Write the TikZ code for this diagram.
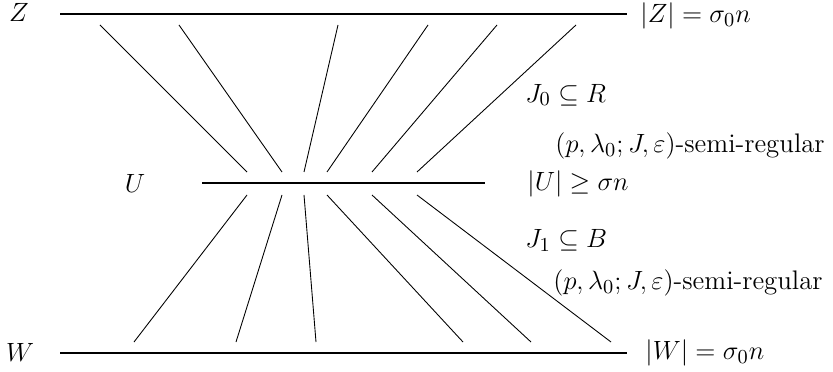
\documentclass[tikz,border=0pt]{standalone}
\usepackage{amssymb}
\begin{document}
\begin{tikzpicture}[x=0.4545pt,y=-0.4545pt,
  every node/.style={font=\fontsize{12.2pt}{15pt}\selectfont},
  setline/.style={line width=0.8pt},
  edgeline/.style={line width=0.4pt},
  lab/.style={inner sep=0pt, anchor=west},
  clab/.style={inner sep=0pt}]
\useasboundingbox (0,0) rectangle (833,372);
% set lines
\coordinate (z1) at (60,14);  \coordinate (z2) at (627,14);
\coordinate (u1) at (202,183); \coordinate (u2) at (485,183);
\coordinate (w1) at (60,353); \coordinate (w2) at (627,353);
\draw[setline] (z1) -- (z2);
\draw[setline] (u1) -- (u2);
\draw[setline] (w1) -- (w2);
% upper fan
\draw[edgeline] (100,25) -- (247,172);
\draw[edgeline] (179,25) -- (282,172);
\draw[edgeline] (338,25) -- (304,172);
\draw[edgeline] (428,25) -- (327,172);
\draw[edgeline] (497,25) -- (372,172);
\draw[edgeline] (576,25) -- (417,172);
% lower fan
\draw[edgeline] (247,195) -- (134,342);
\draw[edgeline] (282,195) -- (236,342);
\draw[edgeline] (304,195) -- (316,342);
\draw[edgeline] (327,195) -- (463,342);
\draw[edgeline] (372,195) -- (531,342);
\draw[edgeline] (417,195) -- (611,342);
% labels
\node[clab] (Z) at (19,12) {$Z$};
\node[clab] (U) at (135,183) {$U$};
\node[clab] (W) at (20,352) {$W$};
\node[lab] (Zs) at (640,15.5) {$|Z|=\sigma_0 n$};
\node[lab] (Us) at (527,184) {$|U|\geq\sigma n$};
\node[lab] (Ws) at (645,353) {$|W|=\sigma_0 n$};
\node[lab] (J0) at (525,95) {$J_0\subseteq R$};
\node[lab] (sr0) at (555,146) {$(p,\lambda_0;J,\varepsilon)$-semi-regular};
\node[lab] (J1) at (525,240) {$J_1\subseteq B$};
\node[lab] (sr1) at (553,283) {$(p,\lambda_0;J,\varepsilon)$-semi-regular};
\end{tikzpicture}
\end{document}
